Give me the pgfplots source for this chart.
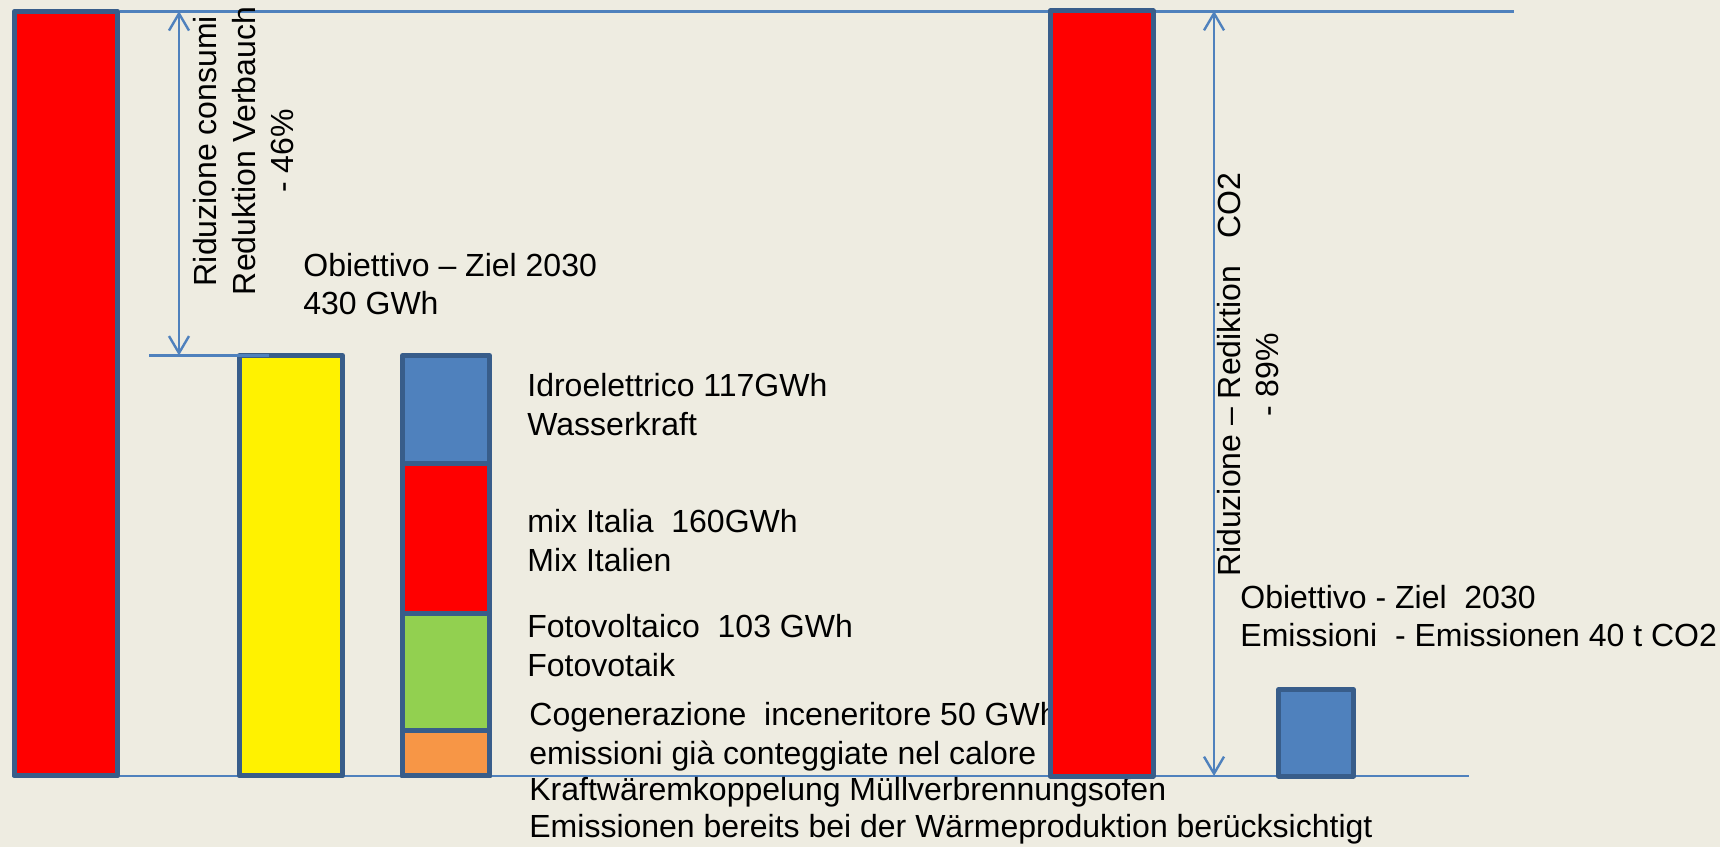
\documentclass[border=0pt]{standalone}
\usepackage{pgfplots}
\pgfplotsset{compat=1.18}
\usepackage{fontspec}
\setmainfont{Liberation Sans}
\usetikzlibrary{arrows.meta}
\definecolor{bg}{RGB}{238,236,225}
\definecolor{bord}{RGB}{56,93,138}
\definecolor{lineblue}{RGB}{79,129,189}
\definecolor{fillblue}{RGB}{79,129,189}
\definecolor{fgreen}{RGB}{146,208,80}
\definecolor{forange}{RGB}{247,150,70}
\begin{document}
\begin{tikzpicture}[every node/.style={font=\fontsize{16}{19}\selectfont, inner sep=0pt, text=black}]
\fill[bg] (0,0) rectangle (860pt,423.5pt);
% ---- Energy axis (GWh) ----
\begin{axis}[
  at={(0,0)}, anchor=south west,
  scale only axis, width=860pt, height=423.5pt,
  xmin=0, xmax=1720, ymin=-72.6, ymax=793.46,
  axis lines=none, ticks=none, clip=false,
  bar/.style={ybar, bar shift=0pt, draw=bord, line width=2.5pt, line join=round},
]
% reference lines
\addplot[lineblue, line width=1.4pt] coordinates {(120,782) (1514,782)};
\addplot[lineblue, line width=1.4pt] coordinates {(12,0) (1469,0)};
% current consumption
\addplot[bar, bar width=103, fill=red] coordinates {(66,782)};
% target 2030
\addplot[bar, bar width=103, fill=yellow] coordinates {(291,430)};
% composition of target (stacked: cumulative tops)
\addplot[bar, bar width=87, fill=fillblue] coordinates {(446,430)}; % hydro
\addplot[bar, bar width=87, fill=red] coordinates {(446,320)};      % mix Italia
\addplot[bar, bar width=87, fill=fgreen] coordinates {(446,166)};   % PV
\addplot[bar, bar width=87, fill=forange] coordinates {(446,47)};   % cogeneration
% reduction marker
\addplot[lineblue, line width=1.4pt] coordinates {(149,430) (269,430)};
\addplot[lineblue, line width=1.2pt, {Straight Barb[length=8.5pt,width=10pt]}-{Straight Barb[length=8.5pt,width=10pt]}] coordinates {(179,782) (179,430)};
\end{axis}
% ---- texts (pixel coordinates) ----
\begin{scope}[x=0.5pt, y=-0.5pt, shift={(0,423.5pt)}]
\node[anchor=base, rotate=90] at (216,151) {Riduzione consumi};
\node[anchor=base, rotate=90] at (255,151) {Reduktion Verbauch};
\node[anchor=base, rotate=90] at (293,151) {- 46\%};
\node[anchor=base west] at (303,277) {Obiettivo – Ziel 2030};
\node[anchor=base west] at (303,315) {430 GWh};
\node[anchor=base west] at (527,397) {Idroelettrico 117GWh};
\node[anchor=base west] at (527,436) {Wasserkraft};
\node[anchor=base west] at (527,533) {mix Italia\ \ 160GWh};
\node[anchor=base west] at (527,572) {Mix Italien};
\node[anchor=base west] at (527,638) {Fotovoltaico\ \ 103 GWh};
\node[anchor=base west] at (527,677) {Fotovotaik};
\node[anchor=base west] at (529,726) {Cogenerazione\ \ inceneritore 50 GWh};
\node[anchor=base west] at (529,764) {emissioni già conteggiate nel calore};
\node[anchor=base west] at (529,800) {Kraftwäremkoppelung Müllverbrennungsofen};
\node[anchor=base west] at (529,837) {Emissionen bereits bei der Wärmeproduktion berücksichtigt};
\end{scope}
% ---- CO2 axis (t CO2) ----
\begin{axis}[
  at={(0,0)}, anchor=south west,
  scale only axis, width=860pt, height=423.5pt,
  xmin=0, xmax=1720, ymin=-33.78, ymax=369.23,
  axis lines=none, ticks=none, clip=false,
  bar/.style={ybar, bar shift=0pt, draw=bord, line width=2.5pt, line join=round},
]
\addplot[bar, bar width=103, fill=red] coordinates {(1101.5,364)};
\addplot[bar, bar width=75, fill=fillblue] coordinates {(1316,41)};
\addplot[lineblue, line width=1.2pt, {Straight Barb[length=8.5pt,width=10pt]}-{Straight Barb[length=8.5pt,width=10pt]}] coordinates {(1214,364) (1214,0)};
\end{axis}
\begin{scope}[x=0.5pt, y=-0.5pt, shift={(0,423.5pt)}]
\node[anchor=base, rotate=90] at (1240,375) {Riduzione – Rediktion\ \ \ CO2};
\node[anchor=base, rotate=90] at (1278,375) {- 89\%};
\node[anchor=base west] at (1240,609) {Obiettivo - Ziel\ \ 2030};
\node[anchor=base west] at (1240,647) {Emissioni\ \ - Emissionen 40 t CO2};
\end{scope}
\end{tikzpicture}
\end{document}
